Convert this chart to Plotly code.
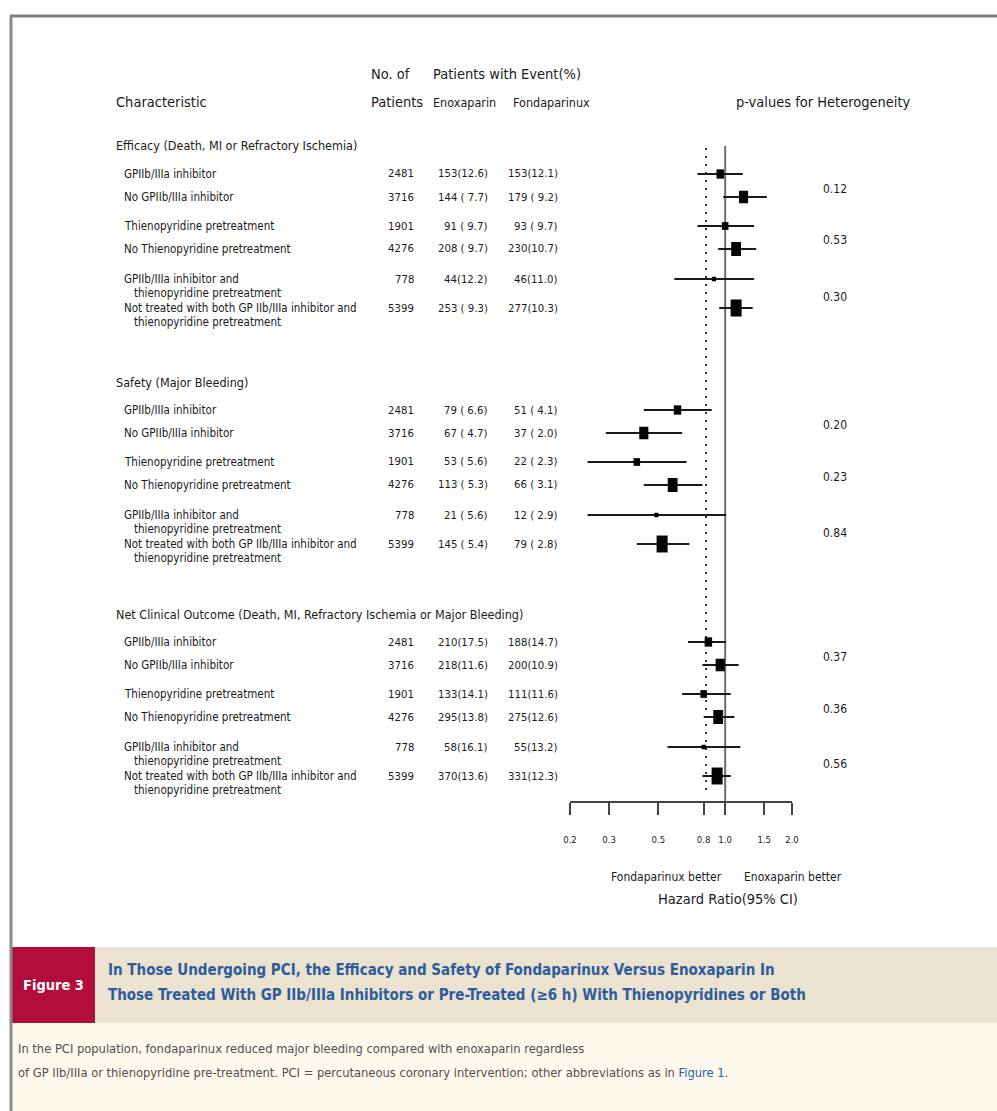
import math
import plotly.graph_objects as go

W, H = 997, 1111
FONT = "'DejaVu Sans Condensed', 'DejaVu Sans', sans-serif"
TEXT = "#1a1a1a"

# ---------------- data ----------------
outcomes = [
    "Efficacy (Death, MI or Refractory Ischemia)",
    "Safety (Major Bleeding)",
    "Net Clinical Outcome (Death, MI, Refractory Ischemia or Major Bleeding)",
]
subgroups = [
    "GPIIb/IIIa inhibitor",
    "No GPIIb/IIIa inhibitor",
    "Thienopyridine pretreatment",
    "No Thienopyridine pretreatment",
    "GPIIb/IIIa inhibitor and",
    "Not treated with both GP IIb/IIIa inhibitor and",
]
subgroup_cont = ["", "", "", "", "thienopyridine pretreatment", "thienopyridine pretreatment"]
n_patients = [2481, 3716, 1901, 4276, 778, 5399]

efficacy_enox = ["153(12.6)", "144 ( 7.7)", "91 ( 9.7)", "208 ( 9.7)", "44(12.2)", "253 ( 9.3)"]
efficacy_fonda = ["153(12.1)", "179 ( 9.2)", "93 ( 9.7)", "230(10.7)", "46(11.0)", "277(10.3)"]
efficacy_hr = [0.95, 1.21, 1.00, 1.12, 0.89, 1.12]
efficacy_lo = [0.75, 0.98, 0.75, 0.93, 0.59, 0.94]
efficacy_hi = [1.20, 1.54, 1.35, 1.38, 1.35, 1.33]
efficacy_p = ["0.12", "0.53", "0.30"]

safety_enox = ["79 ( 6.6)", "67 ( 4.7)", "53 ( 5.6)", "113 ( 5.3)", "21 ( 5.6)", "145 ( 5.4)"]
safety_fonda = ["51 ( 4.1)", "37 ( 2.0)", "22 ( 2.3)", "66 ( 3.1)", "12 ( 2.9)", "79 ( 2.8)"]
safety_hr = [0.61, 0.43, 0.40, 0.58, 0.49, 0.52]
safety_lo = [0.43, 0.29, 0.24, 0.43, 0.24, 0.40]
safety_hi = [0.87, 0.64, 0.67, 0.79, 1.01, 0.69]
safety_p = ["0.20", "0.23", "0.84"]

net_enox = ["210(17.5)", "218(11.6)", "133(14.1)", "295(13.8)", "58(16.1)", "370(13.6)"]
net_fonda = ["188(14.7)", "200(10.9)", "111(11.6)", "275(12.6)", "55(13.2)", "331(12.3)"]
net_hr = [0.84, 0.95, 0.80, 0.93, 0.80, 0.92]
net_lo = [0.68, 0.79, 0.64, 0.80, 0.55, 0.79]
net_hi = [1.01, 1.15, 1.06, 1.10, 1.17, 1.06]
net_p = ["0.37", "0.36", "0.56"]

overall_hr = 0.82
tick_values = [0.2, 0.3, 0.5, 0.8, 1.0, 1.5, 2.0]
tick_labels = ["0.2", "0.3", "0.5", "0.8", "1.0", "1.5", "2.0"]

sections = [
    (efficacy_enox, efficacy_fonda, efficacy_hr, efficacy_lo, efficacy_hi, efficacy_p),
    (safety_enox, safety_fonda, safety_hr, safety_lo, safety_hi, safety_p),
    (net_enox, net_fonda, net_hr, net_lo, net_hi, net_p),
]

# ---------------- layout helpers ----------------
HEADER_Y = [146, 382, 614]          # vertical slot of each outcome heading
ROW_OFFSET = [28, 51, 80, 103, 133, 162]
AXIS_Y = 802


def px(x):
    return x / W


def py(y):
    return 1 - y / H


annotations = []


def add_text(x, y, text, size=11, anchor="left", color=TEXT, bold=False):
    if bold:
        text = "<b>" + text + "</b>"
    annotations.append(dict(
        x=px(x), y=py(y), xref="paper", yref="paper", text=text, showarrow=False,
        xanchor=anchor, yanchor="middle", align=anchor, borderpad=0,
        font=dict(family=FONT, size=size, color=color),
    ))


fig = go.Figure()

# column headings
add_text(115, 102, "Characteristic", size=14.5)
add_text(370, 74, "No. of", size=14.5)
add_text(370, 102, "Patients", size=14.5)
add_text(432, 74, "Patients with Event(%)", size=14.5)
add_text(432, 102, "Enoxaparin", size=12.5)
add_text(512, 102, "Fondaparinux", size=12.5)
add_text(735, 102, "p-values for Heterogeneity", size=14.5)

for s, (enox, fonda, hr, lo, hi, pvals) in enumerate(sections):
    top = HEADER_Y[s]
    ys = [top + o for o in ROW_OFFSET]
    add_text(115, top, outcomes[s], size=12.5)
    for i in range(6):
        add_text(123, ys[i], subgroups[i], size=11.5)
        if subgroup_cont[i]:
            add_text(133, ys[i] + 14, subgroup_cont[i], size=11.5)
        add_text(415, ys[i], str(n_patients[i]), size=11.3, anchor="right")
        add_text(489, ys[i], enox[i], size=11.3, anchor="right")
        add_text(559, ys[i], fonda[i], size=11.3, anchor="right")
    for k, p in enumerate(pvals):
        add_text(822, (ys[2 * k] + ys[2 * k + 1]) / 2 + 3, p, size=12)

    # confidence intervals
    cx, cy = [], []
    for i in range(6):
        cx += [lo[i], hi[i], None]
        cy += [ys[i], ys[i], None]
    fig.add_trace(go.Scatter(x=cx, y=cy, mode="lines",
                             line=dict(color="#1a1a1a", width=2),
                             hoverinfo="skip", showlegend=False))

    # point estimates, box area grows with subgroup size
    widths = [1.5 * math.sqrt(n / 100) for n in n_patients]
    heights = [w * (1 + n / 10000) for w, n in zip(widths, n_patients)]
    fig.add_trace(go.Scatter(
        x=hr, y=ys, mode="markers",
        marker=dict(symbol="line-ns", size=[h / 1.4 for h in heights], color="#050505",
                    opacity=1, line=dict(width=widths, color="#050505")),
        showlegend=False))

# reference lines: no effect and overall estimate
shapes = [
    dict(type="line", xref="x", yref="y", x0=1.0, x1=1.0, y0=HEADER_Y[0], y1=AXIS_Y,
         line=dict(color="#6e6e6e", width=2), layer="below"),
    dict(type="line", xref="x", yref="y", x0=overall_hr, x1=overall_hr,
         y0=HEADER_Y[0] + 2, y1=AXIS_Y - 7,
         line=dict(color="#333333", width=2, dash="2px,6px"), layer="below"),
]

add_text(610, 877, "Fondaparinux better", size=12)
add_text(743, 877, "Enoxaparin better", size=12)
add_text(657, 899, "Hazard Ratio(95% CI)", size=14.5)

# page frame and caption block
shapes += [
    dict(type="rect", xref="paper", yref="paper", x0=px(12), x1=1, y0=0, y1=py(1023),
         fillcolor="#fdf9ec", line=dict(width=0), layer="below"),
    dict(type="rect", xref="paper", yref="paper", x0=px(95), x1=1, y0=py(1023), y1=py(947),
         fillcolor="#ebe2d0", line=dict(width=0), layer="below"),
    dict(type="rect", xref="paper", yref="paper", x0=px(12), x1=px(95), y0=py(1023), y1=py(947),
         fillcolor="#b20e3b", line=dict(width=0), layer="below"),
    dict(type="line", xref="paper", yref="paper", x0=px(10), x1=1, y0=py(16), y1=py(16),
         line=dict(color="#7d7d7d", width=3)),
    dict(type="line", xref="paper", yref="paper", x0=px(11), x1=px(11), y0=py(16), y1=0,
         line=dict(color="#8a8a8a", width=3)),
]

add_text(53, 985, "Figure 3", size=14.5, anchor="center", color="#ffffff", bold=True)
add_text(107, 970, "In Those Undergoing PCI, the Efficacy and Safety of Fondaparinux Versus Enoxaparin In",
         size=15, color="#2d5c9c", bold=True)
add_text(107, 995, "Those Treated With GP IIb/IIIa Inhibitors or Pre-Treated (≥6 h) With Thienopyridines or Both",
         size=15, color="#2d5c9c", bold=True)
add_text(17, 1048, "In the PCI population, fondaparinux reduced major bleeding compared with enoxaparin regardless",
         size=12.8, color="#505050")
add_text(17, 1072, "of GP IIb/IIIa or thienopyridine pre-treatment. PCI = percutaneous coronary intervention; "
                   "other abbreviations as in <span style='color:#2d5c9c'>Figure 1</span>.",
         size=12.8, color="#505050")

fig.update_layout(
    width=W, height=H, autosize=False,
    margin=dict(l=0, r=0, t=0, b=0, pad=0, autoexpand=False),
    paper_bgcolor="#ffffff", plot_bgcolor="rgba(0,0,0,0)",
    showlegend=False,
    shapes=shapes,
    annotations=annotations,
    xaxis=dict(
        type="log", range=[math.log10(0.2), math.log10(2.0)],
        domain=[px(570), px(792)], anchor="free", position=py(AXIS_Y),
        showline=True, linecolor="#444444", linewidth=2,
        ticks="outside", ticklen=12, tickwidth=1.5, tickcolor="#444444",
        tickvals=tick_values, ticktext=tick_labels,
        tickfont=dict(family=FONT, size=9.5, color=TEXT),
        ticklabelstandoff=17, automargin=False,
        showgrid=False, zeroline=False, fixedrange=True,
    ),
    yaxis=dict(domain=[0, 1], range=[H, 0], visible=False, fixedrange=True, automargin=False),
)

fig.write_html("out.html")
